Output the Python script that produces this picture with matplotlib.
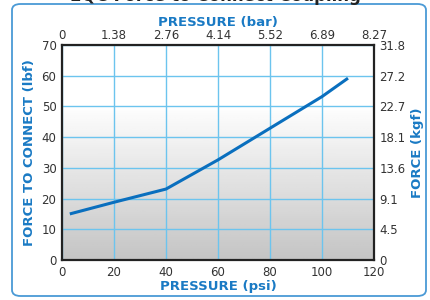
import numpy as np
import matplotlib.pyplot as plt
from matplotlib.patches import FancyBboxPatch

# data
psi = [3, 20, 40, 60, 80, 100, 110]
force_lbf = [15, 18.8, 23.1, 32.6, 42.9, 53.2, 59.2]

psi_ticks = [0, 20, 40, 60, 80, 100, 120]
bar_labels = ["0", "1.38", "2.76", "4.14", "5.52", "6.89", "8.27"]
lbf_ticks = [0, 10, 20, 30, 40, 50, 60, 70]
kgf_labels = ["0", "4.5", "9.1", "13.6", "18.1", "22.7", "27.2", "31.8"]

blue = "#1a7ac4"
grid_blue = "#6cc4ee"
txt = "#333333"

fig = plt.figure(figsize=(4.3, 3.0), dpi=100)

# rounded outer frame (behind the axes)
box = FancyBboxPatch((12 / 430, 4 / 300), 414 / 430, 292 / 300,
                     boxstyle="round,pad=0,rounding_size=0.02",
                     transform=fig.transFigure, fc="white", ec="#4a9ad6", lw=1.3,
                     zorder=-5)
fig.patches.append(box)

# title sits mostly above the image edge, as in the original crop
fig.text(0.5, 0.998, "EQC Force to Connect Coupling", ha="center", va="baseline",
         fontsize=12, fontweight="bold", color="#222222")

ax = fig.add_axes([62 / 430, 40 / 300, 312 / 430, 215 / 300])
ax.set_xlim(0, 120)
ax.set_ylim(0, 70)

# gradient background: white top, gray bottom
grad = np.concatenate([np.linspace(0.77, 0.99, 70), np.full(30, 1.0)]).reshape(-1, 1)
ax.imshow(grad, cmap="gray", vmin=0, vmax=1, aspect="auto",
          extent=[0, 120, 0, 70], origin="lower", zorder=0)

ax.set_xticks(psi_ticks)
ax.set_yticks(lbf_ticks)
ax.grid(True, color=grid_blue, lw=1.0, zorder=1)
ax.set_axisbelow(False)
ax.tick_params(length=0, labelsize=8.5, labelcolor=txt, pad=4)

ax.plot(psi, force_lbf, color="#0a6fbe", lw=2.2, zorder=3, solid_capstyle="butt")

for s in ax.spines.values():
    s.set_color("#222222")
    s.set_linewidth(1.6)
    s.set_zorder(4)

ax.set_xlabel("PRESSURE (psi)", color=blue, fontweight="bold", fontsize=9.5, labelpad=1)
ax.set_ylabel("FORCE TO CONNECT (lbf)", color=blue, fontweight="bold", fontsize=9.5, labelpad=4)

axr = ax.twinx()
axr.set_ylim(0, 70)
axr.set_yticks(lbf_ticks)
axr.set_yticklabels(kgf_labels)
axr.tick_params(length=0, labelsize=8.5, labelcolor=txt, pad=4)
axr.set_ylabel("FORCE (kgf)", color=blue, fontweight="bold", fontsize=9.5, labelpad=4)
for s in axr.spines.values():
    s.set_visible(False)

axt = ax.twiny()
axt.set_xlim(0, 120)
axt.set_xticks(psi_ticks)
axt.set_xticklabels(bar_labels)
axt.tick_params(length=0, labelsize=8.5, labelcolor=txt, pad=2)
axt.set_xlabel("PRESSURE (bar)", color=blue, fontweight="bold", fontsize=9.5, labelpad=2)
for s in axt.spines.values():
    s.set_visible(False)

fig.savefig("out.png", dpi=100)
